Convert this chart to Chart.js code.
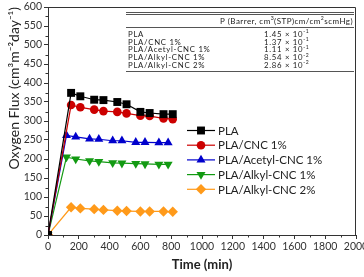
<!DOCTYPE html>
<html><head><meta charset="utf-8">
<script src="https://cdn.jsdelivr.net/npm/chart.js@4/dist/chart.umd.min.js"></script>
<style>html,body{margin:0;padding:0;background:#fff;}canvas{display:block}</style>
</head><body>
<canvas id="c" width="364" height="277"></canvas>
<script>
// ---- data ----
const seriesNames = ['PLA', 'PLA/CNC 1%', 'PLA/Acetyl-CNC 1%', 'PLA/Alkyl-CNC 1%', 'PLA/Alkyl-CNC 2%'];
const timesA = [0, 150, 210, 300, 360, 450, 510, 600, 660, 750, 810];
const timesB = [0, 120, 180, 270, 330, 420, 480, 570, 630, 720, 780];
const fluxPLA      = [0, 374, 365, 356, 355, 350, 344, 324, 321, 318, 318];
const fluxCNC1     = [0, 342, 336, 330, 326, 324, 320, 314, 313, 307, 305];
const fluxAcetyl1  = [0, 262, 258, 253, 252, 248, 248, 244, 244, 243, 243];
const fluxAlkyl1   = [0, 205, 200, 195, 193, 190, 189, 188, 187, 186, 186];
const fluxAlkyl2   = [0, 73, 70, 68, 66, 64, 63, 62, 62, 62, 61];
const tableHeader = ['P (Barrer, cm', '3', '(STP)cm/cm', '2', 'scmHg)'];
const permMantissa = ['1.45', '1.37', '1.11', '8.54', '2.86'];
const permExponent = ['-1', '-1', '-1', '-2', '-2'];
const xTickMin = 0, xTickMax = 2000, xTickStep = 200;
const yTickMin = 0, yTickMax = 600, yTickStep = 50;

// ---- styles ----
const colors = ['#000000', '#cc0000', '#0000cc', '#129a12', '#ff9a1a'];
const styles = ['rect', 'circle', 'triangle', 'triangle', 'rectRot'];
const rotations = [0, 0, 0, 180, 0];
const radii = [5.6, 4.3, 5.2, 5.2, 5.2];
const timeSets = [timesA, timesA, timesB, timesB, timesA];
const fluxSets = [fluxPLA, fluxCNC1, fluxAcetyl1, fluxAlkyl1, fluxAlkyl2];
const FONT = 'Lato, "Open Sans", sans-serif';

const datasets = seriesNames.map((name, i) => ({
  label: name,
  data: timeSets[i].map((t, k) => ({x: t, y: fluxSets[i][k]})),
  borderColor: colors[i],
  backgroundColor: colors[i],
  pointStyle: styles[i],
  rotation: rotations[i],
  pointRadius: radii[i],
  pointBorderWidth: 0,
  borderWidth: 1.2,
  showLine: true,
  tension: 0
}));

function drawMarker(ctx, style, rot, r, x, y, color) {
  ctx.save();
  ctx.fillStyle = color;
  ctx.beginPath();
  if (style === 'rect') {
    const s = Math.SQRT1_2 * r;
    ctx.rect(x - s, y - s, 2 * s, 2 * s);
  } else if (style === 'circle') {
    ctx.arc(x, y, r, 0, Math.PI * 2);
  } else if (style === 'triangle') {
    const a = rot * Math.PI / 180;
    for (let k = 0; k < 3; k++) {
      const ang = a - Math.PI / 2 + k * 2 * Math.PI / 3;
      const px = x + r * Math.cos(ang), py = y + r * Math.sin(ang);
      if (k === 0) ctx.moveTo(px, py); else ctx.lineTo(px, py);
    }
    ctx.closePath();
  } else if (style === 'rectRot') {
    ctx.moveTo(x, y - r); ctx.lineTo(x + r, y); ctx.lineTo(x, y + r); ctx.lineTo(x - r, y); ctx.closePath();
  }
  ctx.fill();
  ctx.restore();
}

function drawSupText(ctx, parts, x, y, size) {
  let cx = x;
  parts.forEach((p, i) => {
    const sup = i % 2 === 1;
    ctx.font = (sup ? size * 0.65 : size) + 'px ' + FONT;
    ctx.fillText(p, cx, sup ? y - size * 0.35 : y);
    cx += ctx.measureText(p).width;
  });
  return cx;
}

const decorPlugin = {
  id: 'decor',
  afterDraw(chart) {
    const ctx = chart.ctx;
    const ca = chart.chartArea;
    const xs = chart.scales.x, ys = chart.scales.y;
    ctx.save();
    ctx.strokeStyle = '#333';
    ctx.lineWidth = 1;
    ctx.beginPath();
    ctx.moveTo(ca.left, ca.top + 0.5); ctx.lineTo(ca.right - 0.5, ca.top + 0.5); ctx.lineTo(ca.right - 0.5, ca.bottom);
    ctx.stroke();
    ctx.beginPath();
    for (let v = xTickMin + xTickStep / 2; v < xTickMax; v += xTickStep) {
      const px = Math.round(xs.getPixelForValue(v)) + 0.5;
      ctx.moveTo(px, ca.bottom); ctx.lineTo(px, ca.bottom + 2.5);
    }
    for (let v = yTickMin + yTickStep / 2; v < yTickMax; v += yTickStep) {
      const py = Math.round(ys.getPixelForValue(v)) + 0.5;
      ctx.moveTo(ca.left, py); ctx.lineTo(ca.left - 2.5, py);
    }
    ctx.stroke();

    // table
    const tL = 126, tR = 354;
    ctx.strokeStyle = '#555';
    ctx.lineWidth = 1.2;
    ctx.beginPath();
    ctx.moveTo(tL, 12.5); ctx.lineTo(tR, 12.5);
    ctx.moveTo(tL, 14.5); ctx.lineTo(tR, 14.5);
    ctx.stroke();
    ctx.lineWidth = 1;
    ctx.beginPath();
    ctx.moveTo(tL, 27.5); ctx.lineTo(tR, 27.5);
    ctx.moveTo(tL, 71.5); ctx.lineTo(tR, 71.5);
    ctx.stroke();
    ctx.fillStyle = '#222';
    ctx.textBaseline = 'middle';
    ctx.textAlign = 'left';
    ctx.letterSpacing = '0.45px';
    drawSupText(ctx, tableHeader, 220, 21, 8);
    ctx.letterSpacing = '0.7px';
    seriesNames.forEach((n, i) => {
      const ry = 34.5 + i * 7.7;
      ctx.font = '7.8px ' + FONT;
      ctx.fillText(n, 128, ry);
      drawSupText(ctx, [permMantissa[i] + ' \u00d7 10', permExponent[i]], 264, ry, 7.8);
    });
    ctx.letterSpacing = '0px';

    // legend
    seriesNames.forEach((n, i) => {
      const ly = 130.5 + i * 14.7;
      ctx.strokeStyle = colors[i];
      ctx.lineWidth = 1.2;
      ctx.beginPath();
      ctx.moveTo(187, ly); ctx.lineTo(215, ly);
      ctx.stroke();
      drawMarker(ctx, styles[i], rotations[i], radii[i], 201, ly, colors[i]);
      ctx.fillStyle = '#222';
      ctx.font = '11.5px ' + FONT;
      ctx.textBaseline = 'middle';
      ctx.fillText(n, 218, ly + 0.5);
    });
    ctx.restore();
  }
};

new Chart(document.getElementById('c'), {
  type: 'scatter',
  data: {datasets},
  options: {
    responsive: false,
    animation: false,
    layout: {padding: {top: 7, right: 8, left: 0, bottom: 0}},
    plugins: {legend: {display: false}, tooltip: {enabled: false}},
    scales: {
      x: {
        type: 'linear', min: xTickMin, max: xTickMax,
        ticks: {stepSize: xTickStep, color: '#333', font: {family: FONT, size: 10.5}, padding: 1, maxRotation: 0, autoSkip: false,
                callback: (v) => String(v)},
        grid: {drawOnChartArea: false, tickLength: 4, color: '#333'},
        border: {color: '#333', width: 1},
        title: {display: true, text: 'Time (min)', color: '#222', font: {family: FONT, size: 13, weight: 'bold'}, padding: {top: 0, bottom: 4}},
        afterFit(s) { s.height = 42; s.paddingLeft = 0; s.paddingRight = 0; }
      },
      y: {
        type: 'linear', min: yTickMin, max: yTickMax,
        ticks: {stepSize: yTickStep, color: '#333', font: {family: FONT, size: 10.5}, padding: 2, callback: (v) => String(v)},
        grid: {drawOnChartArea: false, tickLength: 4, color: '#333'},
        border: {color: '#333', width: 1},
        title: {display: true, text: 'Oxygen Flux (cm\u00b3m\u207b\u00b2day\u207b\u00b9)', align: 'end', color: '#222', font: {family: FONT, size: 14}, padding: {top: 6, bottom: 0}},
        afterFit(s) { s.width = 48; s.paddingTop = 0; s.paddingBottom = 0; }
      }
    }
  },
  plugins: [decorPlugin]
});
</script>
</body></html>
